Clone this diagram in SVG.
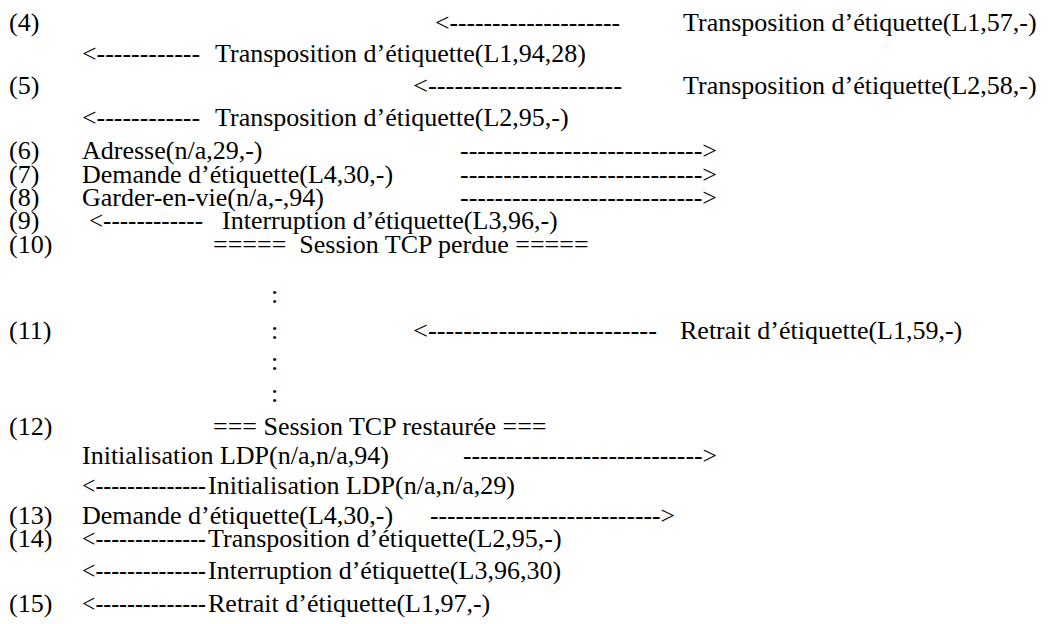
<svg xmlns="http://www.w3.org/2000/svg" width="1049" height="624" viewBox="0 0 1049 624">
<style>
text{font-family:"Liberation Serif","Times New Roman",serif;font-size:26px;fill:#000}
</style>
<rect width="1049" height="624" fill="#fff"/>
<g id="steps">
<text x="9" y="31">(4)</text>
<text x="9" y="94">(5)</text>
<text x="9" y="159">(6)</text>
<text x="9" y="183">(7)</text>
<text x="9" y="206">(8)</text>
<text x="9" y="229">(9)</text>
<text x="9" y="253">(10)</text>
<text x="9" y="339">(11)</text>
<text x="9" y="435">(12)</text>
<text x="9" y="524">(13)</text>
<text x="9" y="547">(14)</text>
<text x="9" y="612">(15)</text>
</g>
<g id="m4a"><text x="683" y="31">Transposition d’étiquette(L1,57,-)</text></g>
<g id="m4b"><text x="215" y="62">Transposition d’étiquette(L1,94,28)</text></g>
<g id="m5a"><text x="683" y="94">Transposition d’étiquette(L2,58,-)</text></g>
<g id="m5b"><text x="215" y="126">Transposition d’étiquette(L2,95,-)</text></g>
<g id="m6"><text x="82" y="159">Adresse(n/a,29,-)</text></g>
<g id="m7"><text x="82" y="183">Demande d’étiquette(L4,30,-)</text></g>
<g id="m8"><text x="82" y="206">Garder-en-vie(n/a,-,94)</text></g>
<g id="m9"><text x="222" y="229">Interruption d’étiquette(L3,96,-)</text></g>
<g id="m10"><text x="213" y="253" xml:space="preserve">=====  Session TCP perdue =====</text></g>
<g id="m11"><text x="680" y="339">Retrait d’étiquette(L1,59,-)</text></g>
<g id="m12"><text x="213" y="435">=== Session TCP restaurée ===</text></g>
<g id="m12a"><text x="82" y="464">Initialisation LDP(n/a,n/a,94)</text></g>
<g id="m12b"><text x="208" y="494">Initialisation LDP(n/a,n/a,29)</text></g>
<g id="m13"><text x="82" y="524">Demande d’étiquette(L4,30,-)</text></g>
<g id="m14a"><text x="208" y="547">Transposition d’étiquette(L2,95,-)</text></g>
<g id="m14b"><text x="208" y="579">Interruption d’étiquette(L3,96,30)</text></g>
<g id="m15"><text x="208" y="612">Retrait d’étiquette(L1,97,-)</text></g>
<g id="connectors">
<text x="435" y="31" textLength="185" lengthAdjust="spacingAndGlyphs">&lt;--------------------</text>
<text x="82" y="62" textLength="118" lengthAdjust="spacingAndGlyphs">&lt;------------</text>
<text x="413" y="94" textLength="209" lengthAdjust="spacingAndGlyphs">&lt;----------------------</text>
<text x="82" y="126" textLength="118" lengthAdjust="spacingAndGlyphs">&lt;------------</text>
<text x="460" y="159" textLength="257" lengthAdjust="spacingAndGlyphs">----------------------------&gt;</text>
<text x="460" y="183" textLength="257" lengthAdjust="spacingAndGlyphs">----------------------------&gt;</text>
<text x="460" y="206" textLength="257" lengthAdjust="spacingAndGlyphs">----------------------------&gt;</text>
<text x="89" y="229" textLength="114" lengthAdjust="spacingAndGlyphs">&lt;------------</text>
<text x="271" y="303">:</text>
<text x="271" y="339">:</text>
<text x="271" y="370">:</text>
<text x="271" y="402">:</text>
<text x="413" y="339" textLength="244" lengthAdjust="spacingAndGlyphs">&lt;--------------------------</text>
<text x="463" y="464" textLength="254" lengthAdjust="spacingAndGlyphs">----------------------------&gt;</text>
<text x="82" y="494" textLength="124" lengthAdjust="spacingAndGlyphs">&lt;--------------</text>
<text x="430" y="524" textLength="245" lengthAdjust="spacingAndGlyphs">---------------------------&gt;</text>
<text x="82" y="547" textLength="124" lengthAdjust="spacingAndGlyphs">&lt;--------------</text>
<text x="82" y="579" textLength="124" lengthAdjust="spacingAndGlyphs">&lt;--------------</text>
<text x="82" y="612" textLength="124" lengthAdjust="spacingAndGlyphs">&lt;--------------</text>
</g>
</svg>
